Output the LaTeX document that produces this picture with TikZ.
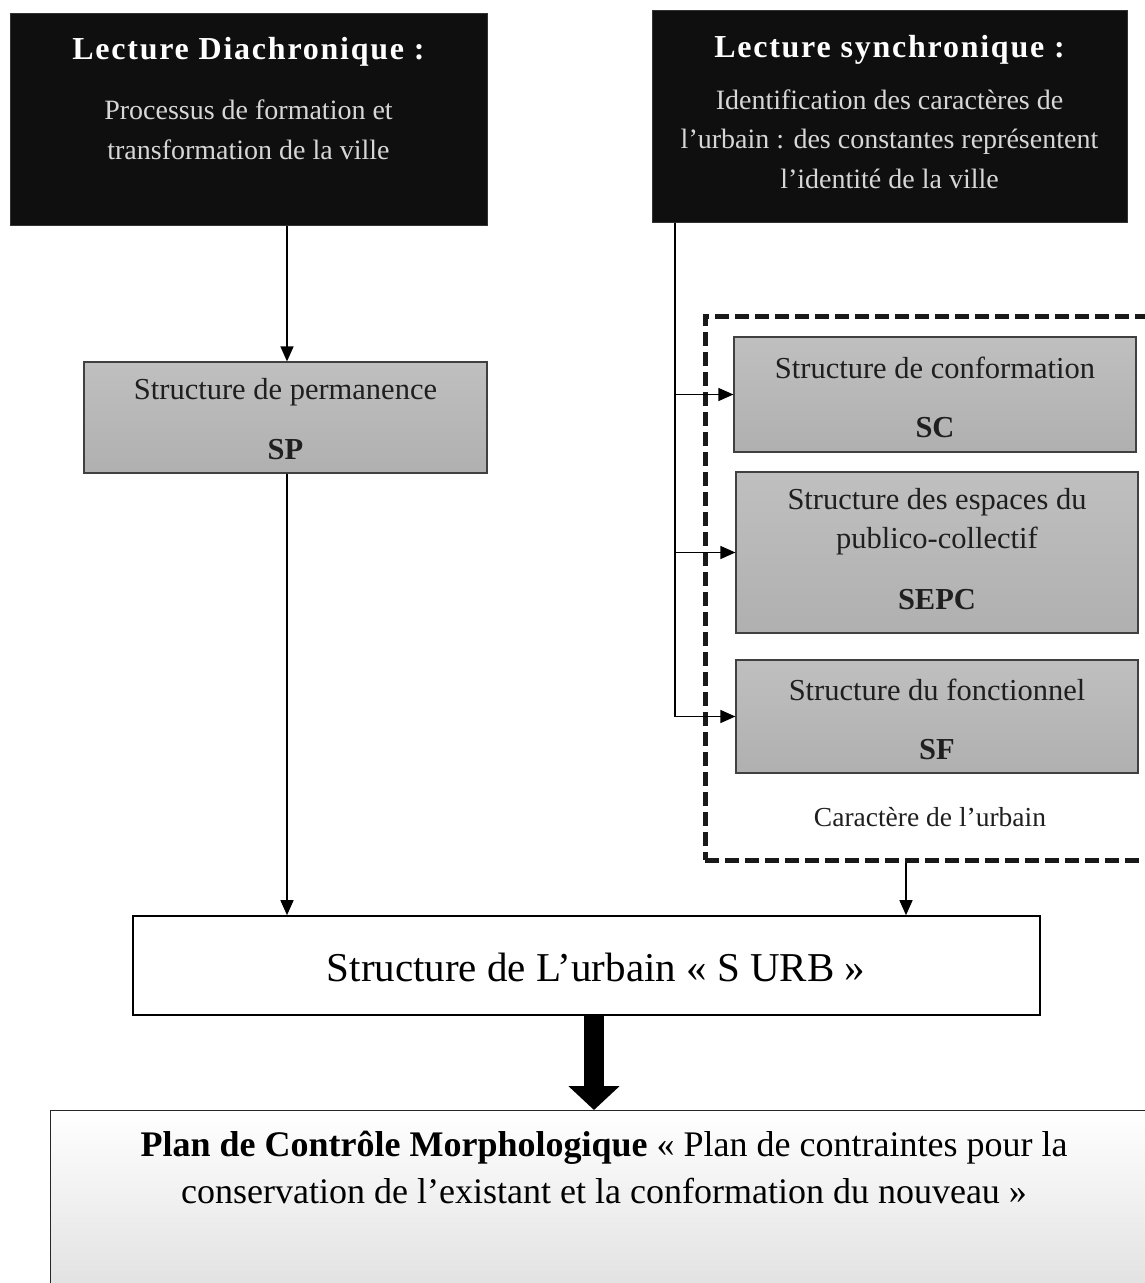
\documentclass[tikz,border=0pt]{standalone}
\usepackage{fontspec}
\setmainfont{Liberation Serif}
\usetikzlibrary{arrows.meta}
\definecolor{subgray}{RGB}{215,215,215}
\begin{document}
\begin{tikzpicture}[x=1pt,y=-1pt,
  darkbox/.style={draw=black!80,line width=1pt,fill=black!94,inner sep=0pt,minimum width=#1},
  graybox/.style={draw=black!75,line width=1.2pt,top color=black!25,bottom color=black!31,inner sep=0pt,minimum width=#1},
  whitebox/.style={draw=black,line width=1.6pt,fill=white,inner sep=0pt},
  ttl/.style={text=white,font=\fontsize{32}{38}\selectfont\bfseries\addfontfeature{LetterSpace=5.5}},
  sub/.style={text=subgray,font=\fontsize{28}{39.5}\selectfont,align=center,inner sep=0pt},
  boxtxt/.style={text=black!88,font=\fontsize{30.5}{38}\selectfont,inner sep=0pt},
  boldtxt/.style={text=black!88,font=\fontsize{30.5}{38}\selectfont\bfseries,inner sep=0pt},
  conn/.style={line width=1.4pt,-{Triangle[length=15pt,width=13pt]}},
]
\useasboundingbox (0,0) rectangle (1145,1283);
\clip (0,0) rectangle (1145,1283);

% black header boxes
\node[darkbox=477pt,minimum height=212pt] (dia) at (248.5,119) {};
\node[darkbox=475pt,minimum height=212pt] (syn) at (889.5,116) {};
\node[ttl] (diat) at (248.5,52) {Lecture Diachronique :};
\node[sub] (dias) at (248.5,130) {Processus de formation et\\transformation de la ville};
\node[ttl] (synt) at (889.5,50) {Lecture synchronique :};
\node[sub] (syns) at (889.5,139) {Identification des caractères de\\l’urbain : des constantes représentent\\l’identité de la ville};

% dashed group
\node[draw=black!90,line width=5pt,dash pattern=on 14pt off 6pt,minimum width=470pt,minimum height=544pt,inner sep=0pt] (grp) at (940,588) {};

% gray boxes
\node[graybox=403pt,minimum height=111pt] (sp) at (285.5,417.5) {};
\node[boxtxt] (spa) at (285.5,392) {Structure de permanence};
\node[boldtxt] (spb) at (285.5,450) {SP};

\node[graybox=402pt,minimum height=115pt] (sc) at (935,394.5) {};
\node[boxtxt] (sca) at (935,368) {Structure de conformation};
\node[boldtxt] (scb) at (935,428) {SC};

\node[graybox=402pt,minimum height=161pt] (sepc) at (937,552.5) {};
\node[boxtxt,align=center,font=\fontsize{30.5}{39}\selectfont] (sepca) at (937,522) {Structure des espaces du\\publico-collectif};
\node[boldtxt] (sepcb) at (937,600) {SEPC};

\node[graybox=402pt,minimum height=113pt] (sf) at (937,716.5) {};
\node[boxtxt] (sfa) at (937,690) {Structure du fonctionnel};
\node[boldtxt] (sfb) at (937,750) {SF};

\node[text=black!88,font=\fontsize{27.5}{33}\selectfont,inner sep=0pt] (car) at (930,817) {Caractère de l’urbain};

% S URB
\node[whitebox,minimum width=907pt,minimum height=99pt] (surb) at (586.5,965.5) {};
\node[font=\fontsize{41}{48}\selectfont,inner sep=0pt] (surbt) at (596,967) {Structure de L’urbain « S URB »};

% PCM
\node[draw=black!85,line width=1.4pt,top color=white,bottom color=black!13,minimum width=1120pt,minimum height=200pt,anchor=north west,inner sep=0pt] (pcm) at (50,1110) {};
\node[font=\fontsize{36}{47}\selectfont,align=center,inner sep=0pt] (pcmt) at (604,1167) {\textbf{Plan de Contrôle Morphologique} « Plan de contraintes pour la\\conservation de l’existant et la conformation du nouveau »};

% connectors
\coordinate (dx) at (287,0);
\draw[conn] (dia.south -| dx) -- (sp.north -| dx);
\draw[conn] (sp.south -| dx) -- (surb.north -| dx);
\coordinate (sx) at (675,0);
\coordinate (gx) at (906,0);
\draw[line width=1.4pt] (syn.south -| sx) |- (sf.west);
\draw[conn] (sx |- sc.west) -- (sc.west);
\draw[conn] (sx |- sepc.west) -- (sepc.west);
\draw[conn] (sx |- sf.west) -- (sf.west);
\draw[conn] (grp.south -| gx) -- (surb.north -| gx);
\coordinate (tx) at (594,0);
\draw[line width=20pt,-{Triangle[length=24pt,width=50pt]}] (surb.south -| tx) -- (pcm.north -| tx);
\end{tikzpicture}
\end{document}
